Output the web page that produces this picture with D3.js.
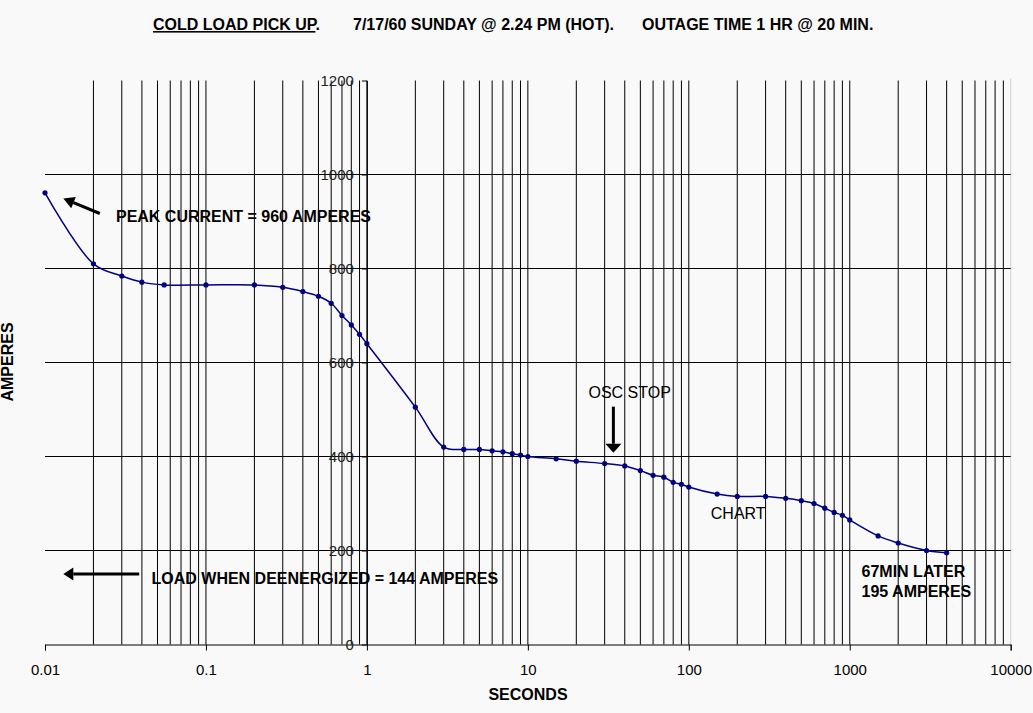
<!DOCTYPE html>
<html>
<head>
<meta charset="utf-8">
<script src="https://cdn.jsdelivr.net/npm/d3@7"></script>
<style>
  body { margin: 0; background: #f9f9f9; }
  svg { display: block; font-family: "Liberation Sans", Arial, sans-serif; }
</style>
</head>
<body>
<svg width="1033" height="713"></svg>
<script>
// readings (seconds, amperes)
const SECONDS = [0.01, 0.02, 0.03, 0.04, 0.055, 0.1, 0.2, 0.3, 0.4, 0.5, 0.6, 0.7, 0.8, 0.9, 1,
  2, 3, 4, 5, 6, 7, 8, 9, 10, 15, 20, 30, 40, 50, 60, 70, 80, 90, 100,
  150, 200, 300, 400, 500, 600, 700, 800, 900, 1000, 1500, 2000, 3000, 4000];
const AMPERES = [961, 810, 784, 771, 765, 765, 765, 760, 751, 741, 726, 700, 680, 660, 640,
  505, 420, 415, 415, 412, 410, 406, 403, 400, 395, 390, 385, 380, 370, 360, 356, 345, 341, 335,
  320, 315, 315, 311, 306, 300, 290, 281, 275, 265, 231, 216, 200, 195];

const X_TICKS = [0.01, 0.1, 1, 10, 100, 1000, 10000];
const X_TICK_LABELS = ['0.01', '0.1', '1', '10', '100', '1000', '10000'];
const Y_TICKS = [0, 200, 400, 600, 800, 1000, 1200];

const svg = d3.select('svg');

const x = d3.scaleLog().domain([0.01, 10000]).range([45, 1010.7]);
const y = d3.scaleLinear().domain([0, 1200]).range([644.5, 80.5]);

// vertical grid: every 1..9 step of each decade
const xGrid = [];
for (let e = -2; e < 4; e++) {
  for (let k = 1; k <= 9; k++) {
    const v = k * Math.pow(10, e);
    if (v > 0.0100001) xGrid.push(v);
  }
}

svg.append('g')
  .selectAll('line')
  .data(xGrid)
  .enter()
  .append('line')
  .attr('x1', d => x(d)).attr('x2', d => x(d))
  .attr('y1', y(1200)).attr('y2', y(0))
  .attr('stroke', '#000')
  .attr('stroke-width', 1);

svg.append('line')
  .attr('x1', x(10000)).attr('x2', x(10000))
  .attr('y1', y(1200) - 2).attr('y2', y(0))
  .attr('stroke', '#d0d0d0');

svg.append('g')
  .selectAll('line')
  .data(Y_TICKS.filter(d => d > 0 && d < 1200))
  .enter()
  .append('line')
  .attr('x1', x(0.01)).attr('x2', x(10000))
  .attr('y1', d => y(d)).attr('y2', d => y(d))
  .attr('stroke', '#000')
  .attr('stroke-width', 1);

// x axis along the bottom
const xAxis = d3.axisBottom(x)
  .tickValues(X_TICKS)
  .tickFormat((d, i) => X_TICK_LABELS[i])
  .tickSize(6)
  .tickPadding(14);

const gx = svg.append('g')
  .attr('transform', `translate(0,${y(0)})`)
  .call(xAxis);
gx.select('.domain').attr('stroke', '#000');
gx.selectAll('.tick line').attr('stroke', '#000');
gx.selectAll('.tick text')
  .attr('font-size', 15)
  .attr('font-family', '"Liberation Sans", Arial, sans-serif')
  .attr('fill', '#000');

// y axis crossing at 1 second
const yAxis = d3.axisLeft(y)
  .tickValues(Y_TICKS)
  .tickFormat(d3.format('d'))
  .tickSize(5)
  .tickSizeOuter(0)
  .tickPadding(8);

const gy = svg.append('g')
  .attr('transform', `translate(${x(1)},0)`)
  .call(yAxis);
gy.select('.domain').attr('stroke', '#000');
gy.selectAll('.tick line').attr('stroke', '#000');
gy.selectAll('.tick text')
  .attr('font-size', 15)
  .attr('font-family', '"Liberation Sans", Arial, sans-serif')
  .attr('fill', '#222');

// the curve
const points = SECONDS.map((s, i) => ({ s: s, a: AMPERES[i] }));

const line = d3.line()
  .x(d => x(d.s))
  .y(d => y(d.a))
  .curve(d3.curveCatmullRom.alpha(0.5));

svg.append('path')
  .datum(points)
  .attr('d', line)
  .attr('fill', 'none')
  .attr('stroke', '#000080')
  .attr('stroke-width', 1.5);

svg.append('g')
  .selectAll('circle')
  .data(points)
  .enter()
  .append('circle')
  .attr('cx', d => x(d.s))
  .attr('cy', d => y(d.a))
  .attr('r', 2.6)
  .attr('fill', '#000080');

// title
const title = svg.append('g')
  .attr('font-size', 16)
  .attr('font-weight', 'bold')
  .attr('fill', '#000');
const t1 = title.append('text').attr('x', 153).attr('y', 30);
t1.append('tspan').attr('text-decoration', 'underline').text('COLD LOAD PICK UP');
t1.append('tspan').text('.');
title.append('text').attr('x', 353).attr('y', 30).text('7/17/60 SUNDAY @ 2.24 PM (HOT).');
title.append('text').attr('x', 642).attr('y', 30).text('OUTAGE TIME 1 HR @ 20 MIN.');

// axis titles
svg.append('text')
  .attr('x', 528).attr('y', 700)
  .attr('text-anchor', 'middle')
  .attr('font-size', 16).attr('font-weight', 'bold')
  .text('SECONDS');

svg.append('text')
  .attr('transform', 'translate(12.5,362) rotate(-90)')
  .attr('text-anchor', 'middle')
  .attr('font-size', 16).attr('font-weight', 'bold')
  .text('AMPERES');

// annotations, placed in data units
function arrow(x0, y0, x1, y1, headLen, headHalf) {
  const ax = x(x0), ay = y(y0), bx = x(x1), by = y(y1);
  const ang = Math.atan2(by - ay, bx - ax);
  const cx = bx - headLen * Math.cos(ang), cy = by - headLen * Math.sin(ang);
  const nx = -Math.sin(ang) * headHalf, ny = Math.cos(ang) * headHalf;
  svg.append('line')
    .attr('x1', ax).attr('y1', ay).attr('x2', cx).attr('y2', cy)
    .attr('stroke', '#000').attr('stroke-width', 3);
  svg.append('path')
    .attr('d', `M${bx},${by}L${cx + nx},${cy + ny}L${cx - nx},${cy - ny}Z`)
    .attr('fill', '#000');
}

arrow(0.0219, 917, 0.0130, 949, 11, 6);
arrow(0.0385, 150, 0.0130, 150, 10, 6.5);
arrow(34, 506, 34, 408, 9, 8);

const notes = [
  { s: 0.0276, a: 899, text: 'PEAK CURRENT = 960 AMPERES', bold: true },
  { s: 0.0459, a: 128, text: 'LOAD WHEN DEENERGIZED = 144 AMPERES', bold: true },
  { s: 23.8, a: 525, text: 'OSC STOP', bold: false },
  { s: 137, a: 267, text: 'CHART', bold: false },
  { s: 1184, a: 143, text: '67MIN LATER', bold: true },
  { s: 1184, a: 102, text: '195 AMPERES', bold: true }
];

svg.append('g')
  .selectAll('text')
  .data(notes)
  .enter()
  .append('text')
  .attr('x', d => x(d.s))
  .attr('y', d => y(d.a))
  .attr('font-size', 16)
  .attr('font-weight', d => d.bold ? 'bold' : 'normal')
  .attr('fill', '#000')
  .text(d => d.text);
</script>
</body>
</html>
